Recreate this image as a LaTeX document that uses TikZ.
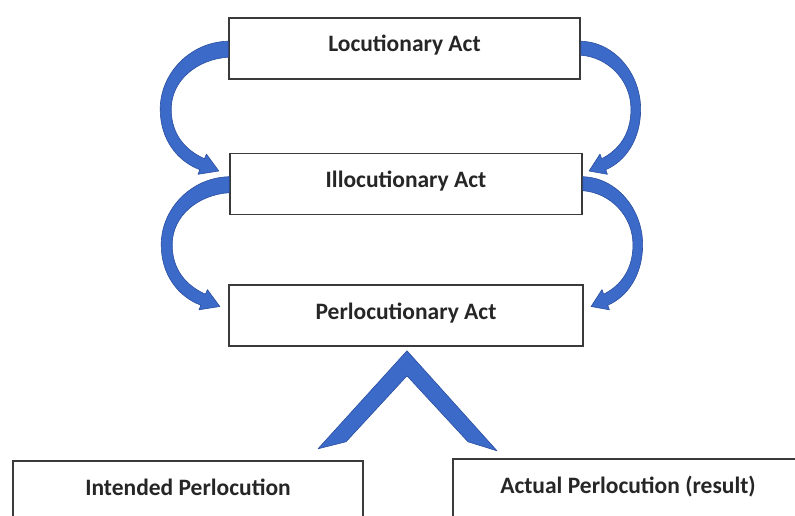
\documentclass[tikz,border=0pt]{standalone}
\usepackage{fontspec}
\setmainfont{Carlito}
\usepackage{tikz}
\usetikzlibrary{calc}

\definecolor{arrowblue}{RGB}{60,106,200}
\definecolor{arrowedge}{RGB}{42,78,160}
\definecolor{boxline}{RGB}{58,58,58}

\begin{document}
\begin{tikzpicture}[x=1pt, y=-1pt]
    \tikzstyle{actbox} = [draw=boxline, line width=1.6pt, fill=white, minimum width=351pt, minimum height=61pt,
        font=\fontsize{23.5}{28}\selectfont\bfseries, text=black!85, text height=17pt, text depth=10pt]
    \tikzstyle{bluearrow} = [fill=arrowblue, draw=arrowedge, line width=0.6pt, line join=round]

    \useasboundingbox (0,0) rectangle (795,516);
    \clip (0,0) rectangle (795,516);

    % the three acts
    \node (loc) [actbox] at (404.5, 48.5) {Locutionary Act};
    \node (illoc) [actbox, minimum width=352pt] at (406, 184) {Illocutionary Act};
    \node (perl) [actbox, minimum width=354pt] at (406, 315.5) {Perlocutionary Act};

    % the two results
    \node (intended) [actbox, minimum width=350pt] at (188, 491.5) {Intended Perlocution};
    \node (actual) [actbox, minimum width=350pt] at (628, 489.5) {Actual Perlocution (result)};

    % curved arrows, left side then right side (mirrored)
    \foreach \from in {loc, illoc} {
        \begin{scope}[shift={(\from.north west)}]
            \draw [bluearrow]
                (0,24) .. controls (-39,25) and (-68,57) .. (-68,92)
                .. controls (-68,122) and (-51,144) .. (-28.3,152.5)
                -- (-30.2,157.1) -- (-9.4,153.8) -- (-21.8,136.9) -- (-23.7,141.5)
                .. controls (-43,133) and (-57,117) .. (-57,92)
                .. controls (-57,63) and (-31,42) .. (0,40) -- cycle;
        \end{scope}
        \begin{scope}[shift={(\from.north east)}, xscale=-0.88]
            \draw [bluearrow]
                (0,24) .. controls (-39,25) and (-68,57) .. (-68,92)
                .. controls (-68,122) and (-51,144) .. (-28.3,152.5)
                -- (-30.2,157.1) -- (-9.4,153.8) -- (-21.8,136.9) -- (-23.7,141.5)
                .. controls (-43,133) and (-57,117) .. (-57,92)
                .. controls (-57,63) and (-31,40) .. (0,38) -- cycle;
        \end{scope}
    }

    % chevron down to the two results
    \begin{scope}[shift={(perl.south)}]
        \draw [bluearrow]
            (1,4) -- (-88,102) -- (-60,95) -- (1,29)
            -- (62,95) -- (91,104) -- cycle;
    \end{scope}
\end{tikzpicture}
\end{document}
